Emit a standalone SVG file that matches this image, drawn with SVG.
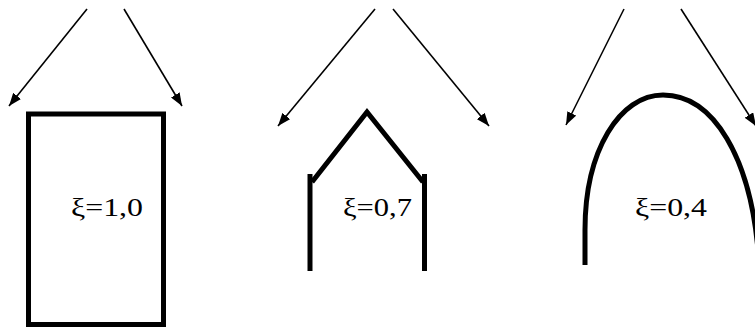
<svg xmlns="http://www.w3.org/2000/svg" width="755" height="331" viewBox="0 0 755 331">
<style>
.arr{stroke:#000;stroke-width:1.6;fill:none;marker-end:url(#ah)}
.thick{stroke:#000;stroke-width:5;fill:none}
.lbl{font-family:"Liberation Serif","Times New Roman",serif;font-size:25px;fill:#000}
</style>
<defs>
<marker id="ah" viewBox="0 0 13 10" refX="13" refY="5" markerWidth="13" markerHeight="10" markerUnits="userSpaceOnUse" orient="auto">
<path d="M0,0 L13,5 L0,10 z" fill="#000"/>
</marker>
</defs>
<rect width="755" height="331" fill="#fff"/>
<g id="connectors">
<line class="arr" x1="87" y1="9" x2="9" y2="106"/>
<line class="arr" x1="124" y1="9" x2="182" y2="106"/>
<line class="arr" x1="375" y1="9" x2="278" y2="126"/>
<line class="arr" x1="393" y1="9" x2="489" y2="126"/>
<line class="arr" x1="624" y1="9" x2="566" y2="125"/>
<line class="arr" x1="681" y1="9" x2="756" y2="126"/>
</g>
<g id="node-rect">
<rect class="thick" x="28.5" y="114" width="135" height="210.5"/>
<text class="lbl" x="71" y="216" textLength="72" lengthAdjust="spacingAndGlyphs">ξ=1,0</text>
</g>
<g id="node-house">
<polyline class="thick" points="312,182 367,112 423,182" stroke-linejoin="miter"/>
<line class="thick" x1="310" y1="174" x2="310" y2="271"/>
<line class="thick" x1="424.5" y1="174" x2="424.5" y2="271"/>
<text class="lbl" x="343" y="216" textLength="69" lengthAdjust="spacingAndGlyphs">ξ=0,7</text>
</g>
<g id="node-arch">
<path class="thick" d="M585,265 L585,230 C585,150 620,95 663,95 C715,95 750,160 758,250"/>
<text class="lbl" x="635" y="216" textLength="72" lengthAdjust="spacingAndGlyphs">ξ=0,4</text>
</g>
</svg>
